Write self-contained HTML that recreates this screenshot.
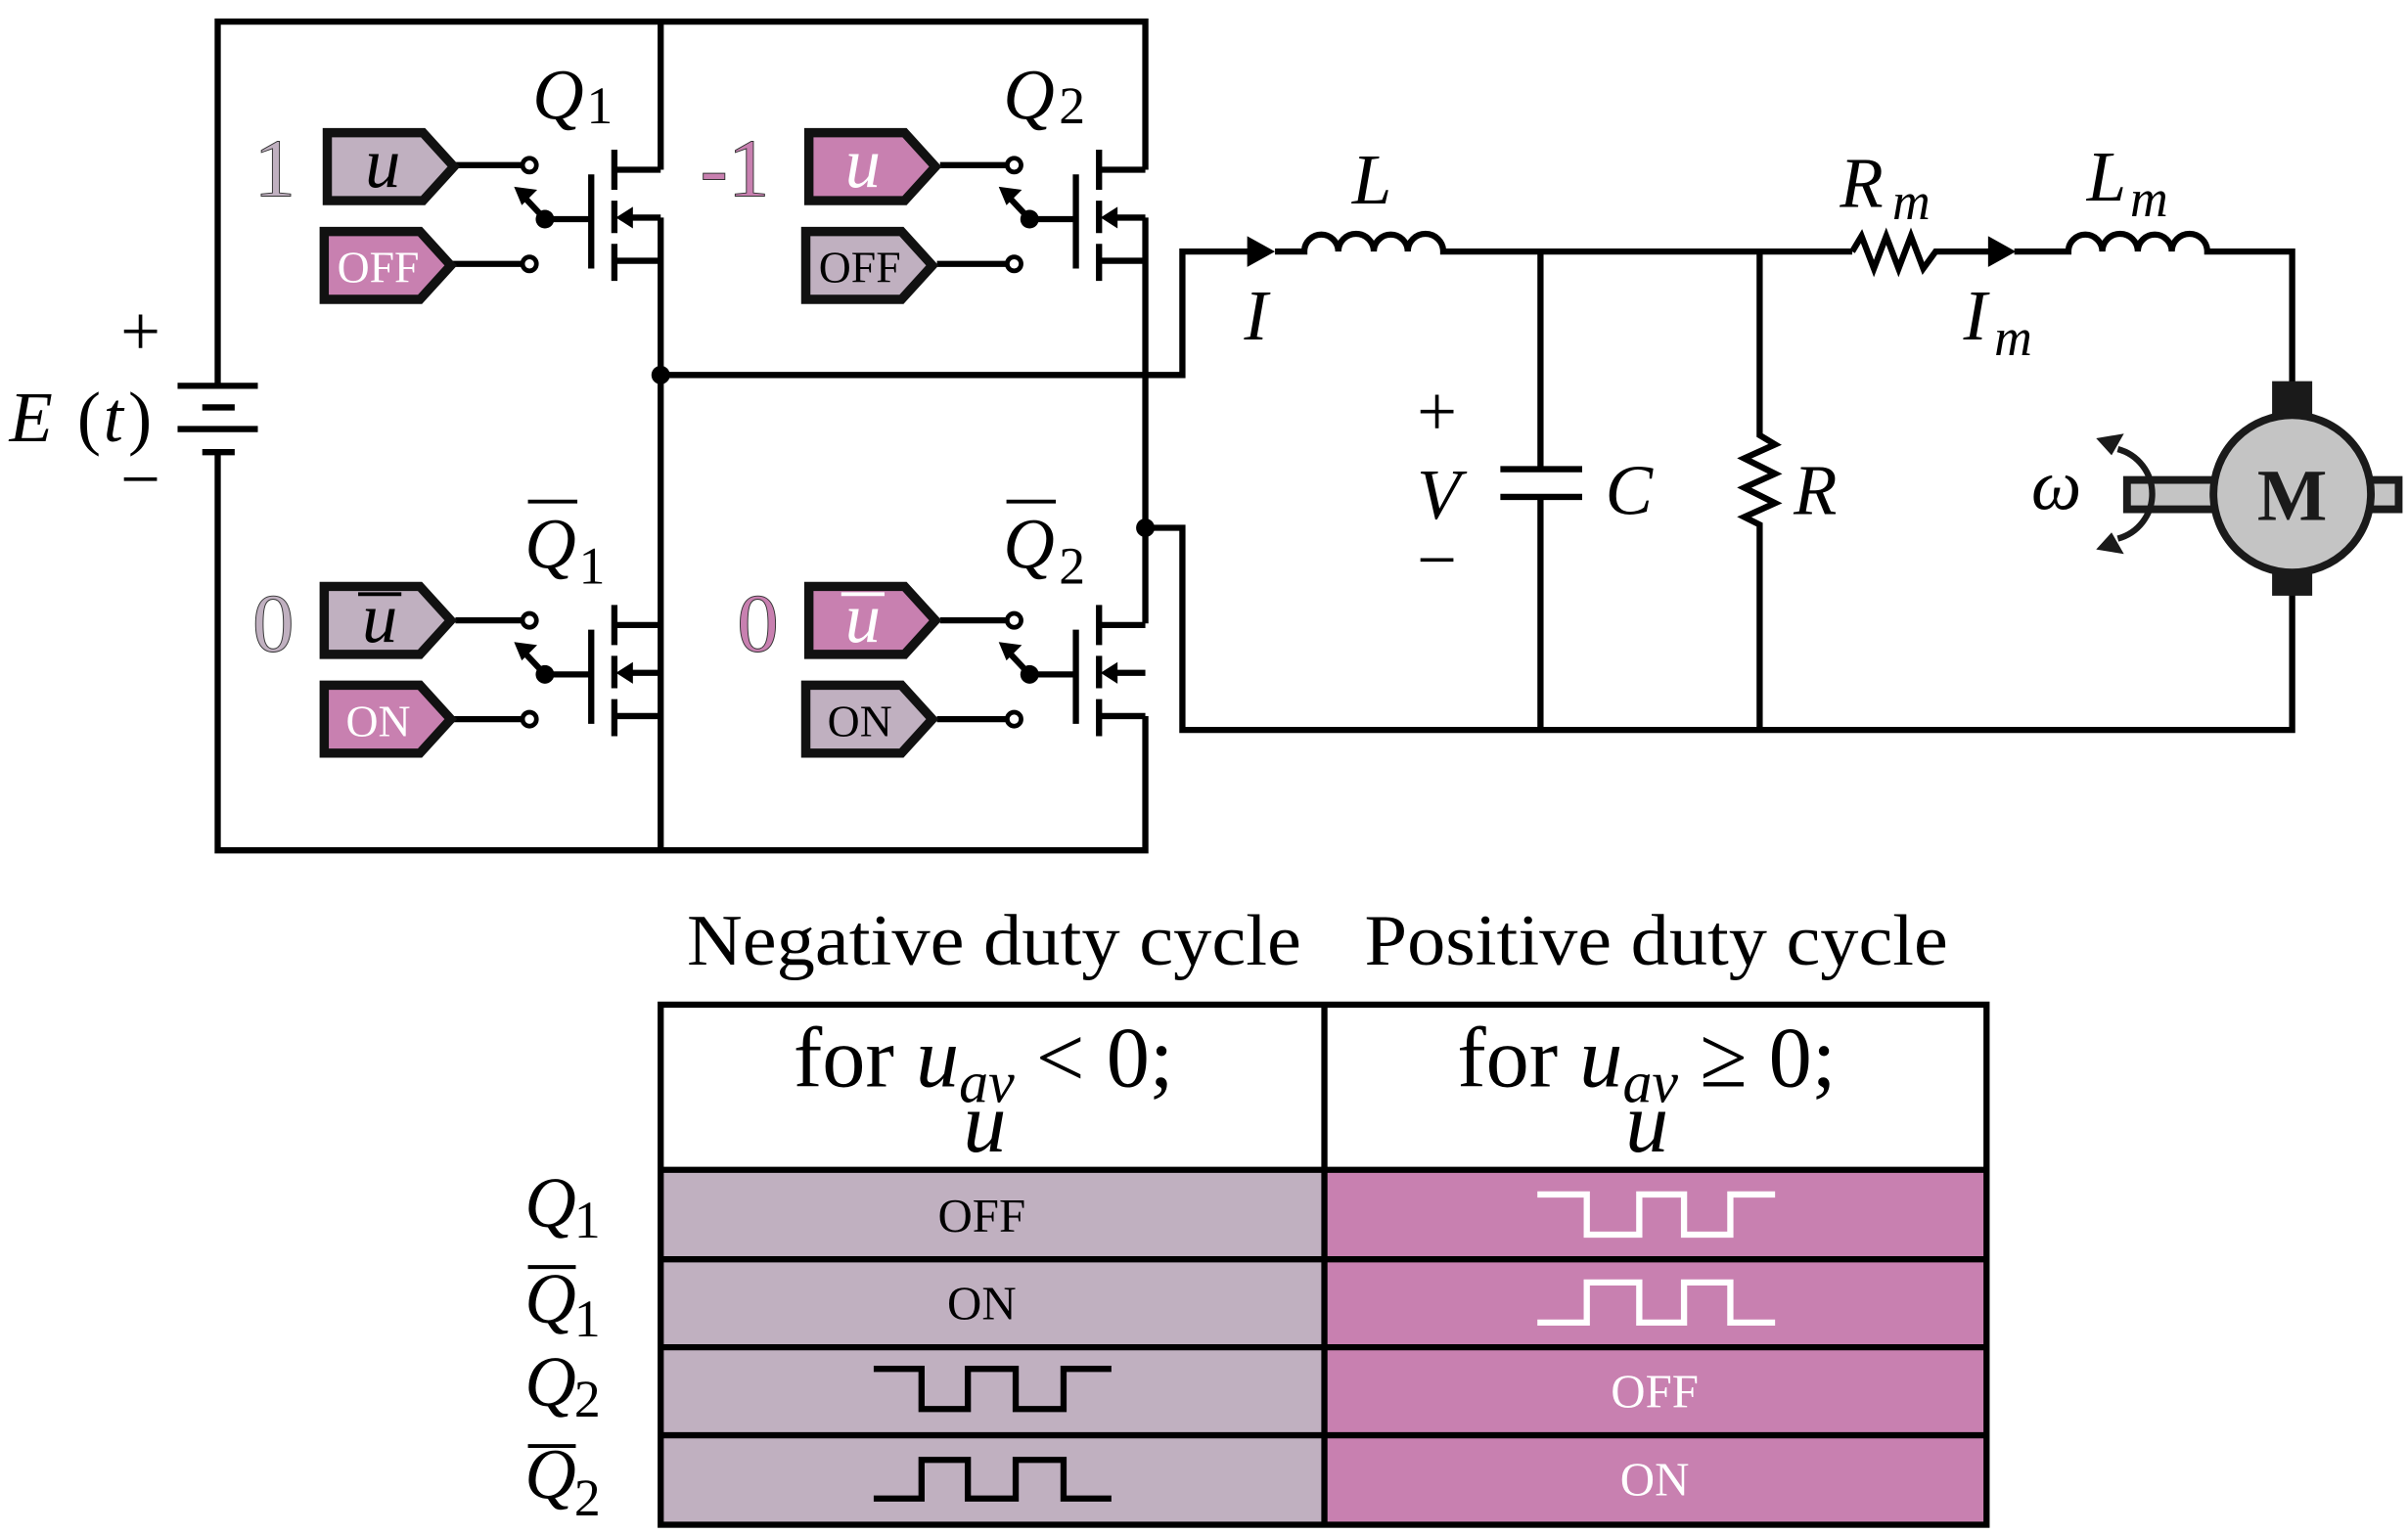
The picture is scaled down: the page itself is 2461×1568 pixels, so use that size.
<!DOCTYPE html>
<html><head><meta charset="utf-8"><style>
html,body{margin:0;padding:0;background:#fff;}
svg{display:block;}
text{font-family:"Liberation Serif",serif;}
.m{font-style:italic;}
</style></head><body>
<svg width="2461" height="1568" viewBox="0 0 1560 994" xmlns="http://www.w3.org/2000/svg">
<defs>
<g id="tr">
  <g stroke="#000" stroke-width="4" fill="none">
    <line x1="383" y1="113" x2="383" y2="174"/>
    <line x1="398" y1="97" x2="398" y2="123"/>
    <line x1="398" y1="130" x2="398" y2="151"/>
    <line x1="398" y1="158" x2="398" y2="182"/>
    <polyline points="398,110 428,110"/>
    <polyline points="404,141 428,141 428,141"/>
    <polyline points="398,169 428,169"/>
    <line x1="353" y1="142" x2="383" y2="142"/>
    <line x1="343" y1="107" x2="295" y2="107"/>
    <line x1="343" y1="171" x2="293" y2="171"/>
    <line x1="353" y1="142" x2="338" y2="126"/>
  </g>
  <polygon points="399,141 410,134 410,148" fill="#000"/>
  <polygon points="333,121 348,123 338,133" fill="#000"/>
  <circle cx="353" cy="142" r="6" fill="#000"/>
  <circle cx="343" cy="107" r="4.5" fill="#fff" stroke="#000" stroke-width="3"/>
  <circle cx="343" cy="171" r="4.5" fill="#fff" stroke="#000" stroke-width="3"/>
</g>
</defs>

<g stroke="#000" stroke-width="4" fill="none">
  <polyline points="141,250 141,14 742,14 742,110"/>
  <line x1="428" y1="14" x2="428" y2="110"/>
  <polyline points="141,294 141,551 742,551 742,464"/>
  <line x1="428" y1="141" x2="428" y2="551"/>
  <line x1="742" y1="141" x2="742" y2="404"/>
  <polyline points="428,243 766,243 766,163 820,163"/>
  <polyline points="742,342 766,342 766,473 1485,473 1485,385"/>
  <path d="M826,163 H845 a11,11 0 0 1 22,0 a11,11 0 0 1 23,0 a11,11 0 0 1 22,0 a11,11 0 0 1 23,0 H1200"/>
  <polyline points="1200,163 1206,153 1214,174 1222,153 1230,174 1238,153 1246,174 1254,163 1296,163"/>
  <path d="M1305,163 H1340 a11,11 0 0 1 22,0 a11,11 0 0 1 23,0 a11,11 0 0 1 22,0 a11,11 0 0 1 23,0 H1485 V250"/>
  <line x1="998" y1="163" x2="998" y2="304"/>
  <line x1="998" y1="322" x2="998" y2="473"/>
  <line x1="972" y1="304" x2="1025" y2="304"/>
  <line x1="972" y1="322" x2="1025" y2="322"/>
  <polyline points="1140,163 1140,282 1150,288 1130,297 1150,307 1130,316 1150,326 1130,335 1140,340 1140,473"/>
  <line x1="115" y1="250" x2="167" y2="250"/>
  <line x1="131" y1="264" x2="152" y2="264"/>
  <line x1="115" y1="278" x2="167" y2="278"/>
  <line x1="131" y1="293" x2="152" y2="293"/>
</g>
<polygon points="808,153 826,163 808,173" fill="#000"/>
<polygon points="1288,153 1306,163 1288,173" fill="#000"/>
<circle cx="428" cy="243" r="6" fill="#000"/>
<circle cx="742" cy="342" r="6" fill="#000"/>

<use href="#tr"/>
<use href="#tr" transform="translate(314,0)"/>
<use href="#tr" transform="translate(0,295)"/>
<use href="#tr" transform="translate(314,295)"/>

<g stroke="#111" stroke-width="6" stroke-linejoin="miter">
  <polygon points="212,86 274,86 294,108 274,130 212,130" fill="#c0b0c0"/>
  <polygon points="210,150 272,150 292,172 272,194 210,194" fill="#c880b0"/>
  <polygon points="524,86 586,86 606,108 586,130 524,130" fill="#c880b0"/>
  <polygon points="522,150 584,150 604,172 584,194 522,194" fill="#c0b0c0"/>
  <polygon points="210,380 272,380 292,402 272,424 210,424" fill="#c0b0c0"/>
  <polygon points="210,444 272,444 292,466 272,488 210,488" fill="#c880b0"/>
  <polygon points="524,380 586,380 606,402 586,424 524,424" fill="#c880b0"/>
  <polygon points="522,444 584,444 604,466 584,488 522,488" fill="#c0b0c0"/>
</g>
<g font-size="46" text-anchor="middle">
  <text class="m" x="248" y="121">u</text>
  <text class="m" x="559" y="121" fill="#fff">u</text>
  <text class="m" x="246" y="416">u</text>
  <text class="m" x="559" y="416" fill="#fff">u</text>
</g>
<line x1="232" y1="385" x2="260" y2="385" stroke="#000" stroke-width="2.5"/>
<line x1="545" y1="385" x2="573" y2="385" stroke="#fff" stroke-width="2.5"/>
<g font-size="29" text-anchor="middle">
  <text x="245" y="183" fill="#fff">OFF</text>
  <text x="557" y="183" fill="#000">OFF</text>
  <text x="245" y="477" fill="#fff">ON</text>
  <text x="557" y="477" fill="#000">ON</text>
</g>
<g font-size="54" text-anchor="middle" stroke="#333" stroke-width="0.6">
  <text x="178" y="127" fill="#c0b0c0">1</text>
  <text x="476" y="127" fill="#c880b0">-1</text>
  <text x="177" y="422" fill="#c0b0c0">0</text>
  <text x="491" y="422" fill="#c880b0">0</text>
</g>

<g font-size="46">
  <text class="m" x="345" y="77">Q</text><text x="380" y="80" font-size="34">1</text>
  <text class="m" x="650" y="77">Q</text><text x="686" y="80" font-size="34">2</text>
  <text class="m" x="340" y="368">Q</text><text x="375" y="378" font-size="34">1</text>
  <text class="m" x="650" y="368">Q</text><text x="686" y="378" font-size="34">2</text>
</g>
<g stroke="#000" stroke-width="2.5"><line x1="342" y1="325" x2="374" y2="325"/><line x1="652" y1="325" x2="684" y2="325"/></g>

<g font-size="46">
  <text x="78" y="230">+</text>
  <text x="78" y="326">−</text>
  <text class="m" x="6" y="286">E</text><text x="50" y="286">(</text><text class="m" x="67" y="286">t</text><text x="83" y="286">)</text>
  <text class="m" x="876" y="132">L</text>
  <text class="m" x="806" y="220">I</text>
  <text class="m" x="1192" y="134">R</text><text class="m" x="1226" y="142" font-size="34">m</text>
  <text class="m" x="1352" y="130">L</text><text class="m" x="1380" y="140" font-size="34">m</text>
  <text class="m" x="1272" y="220">I</text><text class="m" x="1292" y="230" font-size="34">m</text>
  <text x="918" y="282">+</text>
  <text class="m" x="918" y="336">V</text>
  <text x="918" y="378">−</text>
  <text class="m" x="1040" y="333">C</text>
  <text class="m" x="1162" y="333">R</text>
  <text class="m" x="1316" y="330">ω</text>
</g>

<rect x="1472" y="247" width="26" height="24" fill="#1a1a1a"/>
<rect x="1472" y="368" width="26" height="18" fill="#1a1a1a"/>
<rect x="1378" y="311" width="60" height="19" fill="#c4c4c4" stroke="#1a1a1a" stroke-width="5"/>
<rect x="1535" y="311" width="19" height="19" fill="#c4c4c4" stroke="#1a1a1a" stroke-width="5"/>
<circle cx="1485" cy="320" r="51" fill="#c4c4c4" stroke="#1a1a1a" stroke-width="5"/>
<text x="1485" y="337" font-size="48" font-weight="bold" text-anchor="middle" fill="#1a1a1a">M</text>
<path d="M1372,291 A30,30 0 0 1 1372,349" fill="none" stroke="#1a1a1a" stroke-width="4"/>
<polygon points="1358,284 1376,281 1368,295" fill="#1a1a1a"/>
<polygon points="1358,356 1376,359 1368,345" fill="#1a1a1a"/>

<g font-size="47">
  <text x="445" y="625" textLength="398" lengthAdjust="spacingAndGlyphs">Negative duty cycle</text>
  <text x="884" y="625" textLength="378" lengthAdjust="spacingAndGlyphs">Positive duty cycle</text>
</g>
<rect x="858" y="758" width="429" height="230" fill="#c880b0"/>
<rect x="428" y="758" width="430" height="230" fill="#c0b0c0"/>
<g stroke="#000" stroke-width="4" fill="none">
  <rect x="428" y="651" width="859" height="337"/>
  <line x1="858" y1="651" x2="858" y2="988"/>
  <line x1="428" y1="758" x2="1287" y2="758"/>
  <line x1="428" y1="816" x2="1287" y2="816"/>
  <line x1="428" y1="873" x2="1287" y2="873"/>
  <line x1="428" y1="930" x2="1287" y2="930"/>
  <polyline points="566,887 597,887 597,913 627,913 627,887 658,887 658,913 689,913 689,887 720,887"/>
  <polyline points="566,971 597,971 597,946 627,946 627,971 658,971 658,946 689,946 689,971 720,971"/>
</g>
<g stroke="#fff" stroke-width="4" fill="none">
  <polyline points="996,774 1028,774 1028,800 1062,800 1062,774 1091,774 1091,800 1121,800 1121,774 1150,774"/>
  <polyline points="996,857 1028,857 1028,831 1062,831 1062,857 1091,857 1091,831 1121,831 1121,857 1150,857"/>
</g>
<g font-size="56">
  <text x="514" y="704">for <tspan class="m">u</tspan><tspan class="m" font-size="38" dy="10">av</tspan><tspan dy="-10"> &lt; 0;</tspan></text>
  <text x="944" y="704">for <tspan class="m">u</tspan><tspan class="m" font-size="38" dy="10">av</tspan><tspan dy="-10"> ≥ 0;</tspan></text>
  <text class="m" x="624" y="746">u</text>
  <text class="m" x="1053" y="746">u</text>
</g>
<g font-size="31" text-anchor="middle">
  <text x="636" y="798">OFF</text>
  <text x="636" y="855">ON</text>
  <text x="1072" y="912" fill="#fff">OFF</text>
  <text x="1072" y="969" fill="#fff">ON</text>
</g>
<g font-size="46">
  <text class="m" x="340" y="795">Q</text><text x="372" y="802" font-size="34">1</text>
  <text class="m" x="340" y="857">Q</text><text x="372" y="866" font-size="34">1</text>
  <text class="m" x="340" y="911">Q</text><text x="372" y="918" font-size="34">2</text>
  <text class="m" x="340" y="971">Q</text><text x="372" y="982" font-size="34">2</text>
</g>
<g stroke="#000" stroke-width="2.5"><line x1="342" y1="821" x2="373" y2="821"/><line x1="342" y1="937" x2="373" y2="937"/></g>
</svg>
</body></html>
